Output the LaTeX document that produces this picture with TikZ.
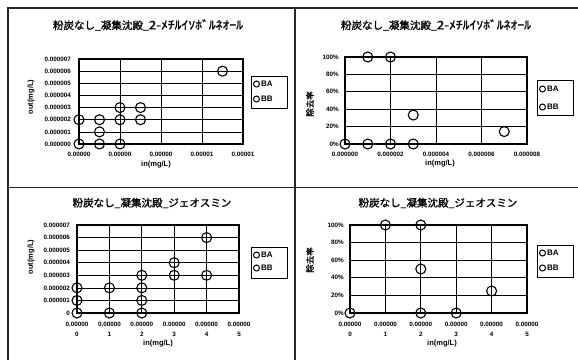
\documentclass[tikz,border=0pt]{standalone}
\usepackage{fontspec}
\usepackage{graphicx}
\setmainfont{Liberation Sans}
\newfontfamily\jpfont{Noto Sans CJK JP}[AutoFakeBold=1.2]
\usetikzlibrary{positioning}

\tikzset{
  frameline/.style={line width=1.2pt, black!85},
  gridline/.style={line width=0.7pt, black},
  plotbox/.style={line width=1.4pt, black},
  mk/.style={circle, draw, line width=1.1pt, inner sep=0pt, minimum size=10pt},
  legmk/.style={circle, draw, line width=1pt, inner sep=0pt, minimum size=6pt},
  ticklab/.style={font=\fontsize{6.3}{7}\selectfont\bfseries, inner sep=0pt},
  axlab/.style={font=\fontsize{7.5}{8}\selectfont\bfseries, inner sep=0pt},
  jplab/.style={font=\jpfont\fontsize{8.5}{9}\selectfont\bfseries, inner sep=0pt},
  ttl/.style={font=\jpfont\fontsize{10.5}{12}\selectfont\bfseries, inner sep=0pt},
  legbox/.style={draw, line width=0.8pt, minimum width=36pt, inner sep=0pt},
  legtxt/.style={font=\fontsize{8}{9}\selectfont\bfseries, inner sep=0pt, anchor=west},
}

\begin{document}
\begin{tikzpicture}[x=1pt, y=-1pt]
   \useasboundingbox (0,0) rectangle (578,360);

   % frame of the four panels
   \draw[frameline] (8,360) -- (8,8) -- (578,8);
   \draw[frameline] (295,8) -- (295,360);
   \draw[frameline] (8,187.5) -- (578,187.5);

   % titles
   \node[ttl] (t1) at (148,25) {粉炭なし\_凝集沈殿\_\scalebox{1.3}[1.1]{2-ﾒﾁﾙｲｿﾎﾞﾙﾈｵｰﾙ}};
   \node[ttl] (t2) at (436,25) {粉炭なし\_凝集沈殿\_\scalebox{1.3}[1.1]{2-ﾒﾁﾙｲｿﾎﾞﾙﾈｵｰﾙ}};
   \node[ttl] (t3) at (152,203) {粉炭なし\_凝集沈殿\_ジェオスミン};
   \node[ttl] (t4) at (438,203) {粉炭なし\_凝集沈殿\_ジェオスミン};

   % top left: out vs in
   \begin{scope}[shift={(79,144)}, x=20.5pt, y=12.143pt]
      \foreach \k in {1,...,6} \draw[gridline] (0,\k) -- (8,\k);
      \foreach \k in {2,4,6} \draw[gridline] (\k,0) -- (\k,7);
      \draw[plotbox] (0,0) rectangle (8,7);
      \foreach \v in {0,...,7}
         \node[ticklab, anchor=east, xshift=-8pt] at (0,\v) {0.00000\v};
      \foreach \v/\t in {0/0.00000, 2/0.00000, 4/0.00000, 6/0.00001, 8/0.00001}
         \node[ticklab, yshift=-10pt] at (\v,0) {\t};
      \foreach \px/\py in {0/0, 0/2, 1/0, 1/1, 1/2, 2/0, 2/2, 2/3, 3/2, 3/3, 7/6}
         \node[mk] at (\px,\py) {};
   \end{scope}
   \node[axlab, rotate=90] (yl1) at (31,97) {out(mg/L)};
   \node[axlab] (xl1) at (156,165) {in(mg/L)};

   % top right: removal rate
   \begin{scope}[shift={(345,144)}, x=22.75pt, y=0.87pt]
      \foreach \k in {20,40,60,80} \draw[gridline] (0,\k) -- (8,\k);
      \foreach \k in {2,4,6} \draw[gridline] (\k,0) -- (\k,100);
      \draw[plotbox] (0,0) rectangle (8,100);
      \foreach \v in {0,20,...,100}
         \node[ticklab, anchor=east, xshift=-6pt] at (0,\v) {\v\%};
      \foreach \v in {0,2,4,6,8}
         \node[ticklab, yshift=-10pt] at (\v,0) {0.00000\v};
      \foreach \px/\py in {0/0, 1/0, 2/0, 3/0, 1/100, 2/100, 3/33.3, 7/14.3}
         \node[mk] at (\px,\py) {};
   \end{scope}
   \node[jplab, rotate=90] (yl2) at (310,104) {除去率};
   \node[axlab] (xl2) at (440,164) {in(mg/L)};

   % bottom left: out vs in
   \begin{scope}[shift={(77,313)}, x=32.4pt, y=12.57pt]
      \foreach \k in {1,...,6} \draw[gridline] (0,\k) -- (5,\k);
      \foreach \k in {1,...,4} \draw[gridline] (\k,0) -- (\k,7);
      \draw[plotbox] (0,0) rectangle (5,7);
      \foreach \v in {1,...,7}
         \node[ticklab, anchor=east, xshift=-7pt] at (0,\v) {0.00000\v};
      \node[ticklab, anchor=east, xshift=-7pt] at (0,0) {0};
      \foreach \v in {0,...,5} {
         \node[ticklab, yshift=-11pt] at (\v,0) {0.00000};
         \node[ticklab, yshift=-21pt] at (\v,0) {\v};
      }
      \foreach \px/\py in {0/0, 0/1, 0/2, 1/0, 1/2, 2/0, 2/1, 2/2, 2/3, 3/3, 3/4, 4/3, 4/6}
         \node[mk] at (\px,\py) {};
   \end{scope}
   \node[axlab, rotate=90] (yl3) at (31,257) {out(mg/L)};
   \node[axlab] (xl3) at (158,344) {in(mg/L)};

   % bottom right: removal rate
   \begin{scope}[shift={(350,313)}, x=35.4pt, y=0.88pt]
      \foreach \k in {20,40,60,80} \draw[gridline] (0,\k) -- (5,\k);
      \foreach \k in {1,...,4} \draw[gridline] (\k,0) -- (\k,100);
      \draw[plotbox] (0,0) rectangle (5,100);
      \foreach \v in {0,20,...,100}
         \node[ticklab, anchor=east, xshift=-6pt] at (0,\v) {\v\%};
      \foreach \v in {0,...,5} {
         \node[ticklab, yshift=-11pt] at (\v,0) {0.00000};
         \node[ticklab, yshift=-21pt] at (\v,0) {\v};
      }
      \foreach \px/\py in {0/0, 1/100, 2/100, 2/50, 2/0, 3/0, 4/25}
         \node[mk] at (\px,\py) {};
   \end{scope}
   \node[jplab, rotate=90] (yl4) at (310,260) {除去率};
   \node[axlab] (xl4) at (442,344) {in(mg/L)};

   % legends
   \foreach \lx/\ly/\ya/\yb/\lh in {269/92/84/99/32, 555/97.5/89/107/35, 269/262.5/255/268/31, 555/261/253/268/32} {
      \node[legbox, minimum height=\lh pt] at (\lx,\ly) {};
      \node[legmk] at (\lx-12.5,\ya) {};
      \node[legtxt] at (\lx-8,\ya) {BA};
      \node[legmk] at (\lx-12.5,\yb) {};
      \node[legtxt] at (\lx-8,\yb) {BB};
   }
\end{tikzpicture}
\end{document}
